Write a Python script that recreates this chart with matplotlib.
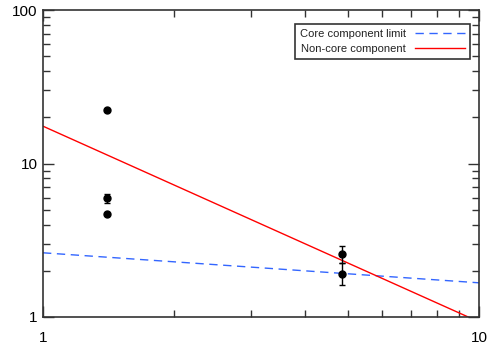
import matplotlib
matplotlib.use("Agg")
import matplotlib.pyplot as plt
from matplotlib.ticker import NullFormatter
import numpy as np

plt.rcParams['font.family'] = ['Liberation Sans', 'DejaVu Sans']

# data points
pts_x = [1.40, 1.40, 1.40, 4.86, 4.86]
pts_y = [22.2, 5.95, 4.69, 2.58, 1.91]
err_lo = [0.0, 0.40, 0.0, 0.34, 0.29]
err_hi = [0.0, 0.40, 0.0, 0.31, 0.33]

# fitted lines (end values)
core_x = [1, 10]
core_y = [2.62, 1.67]
noncore_x = [1, 10]
noncore_y = [17.5, 0.93]

fig = plt.figure(figsize=(4.95, 3.47), dpi=100)
ax = fig.add_axes([43/495, 1-317/347, (479-43)/495, (317-10)/347])

ax.plot(core_x, core_y, color='#3366ff', ls=(0, (6, 4)), lw=1.0, label='Core component limit')
ax.plot(noncore_x, noncore_y, color='red', lw=1.0, label='Non-core component')
ax.errorbar(pts_x, pts_y, yerr=[err_lo, err_hi], fmt='o', color='black', ms=5,
            capsize=2.5, elinewidth=1, capthick=1)

ax.set_xscale('log')
ax.set_yscale('log')
ax.set_xlim(1, 10)
ax.set_ylim(1, 100)

ax.set_xticks([1, 10])
ax.set_xticklabels(['1', '10'])
ax.set_yticks([1, 10, 100])
ax.set_yticklabels(['1', '10', '100'])
ax.xaxis.set_minor_formatter(NullFormatter())
ax.yaxis.set_minor_formatter(NullFormatter())
ax.tick_params(which='both', direction='in', top=True, right=True, colors='#333333',
               labelcolor='black', labelsize=11)
ax.tick_params(which='major', length=8, width=1)
ax.tick_params(which='minor', length=5, width=1)
ax.tick_params(axis='x', pad=10)
ax.tick_params(axis='y', pad=4)
for s in ax.spines.values():
    s.set_color('#333333')
    s.set_linewidth(1.2)

leg = ax.legend(loc='upper right', bbox_to_anchor=(0.992, 0.972), fontsize=8,
                frameon=True, fancybox=False, edgecolor='black', markerfirst=False,
                handlelength=4.5, borderpad=0.45, labelspacing=0.4)
leg.get_frame().set_linewidth(1.2)
for t in leg.get_texts():
    t.set_color('#222222')

fig.savefig('out.png', dpi=100)
